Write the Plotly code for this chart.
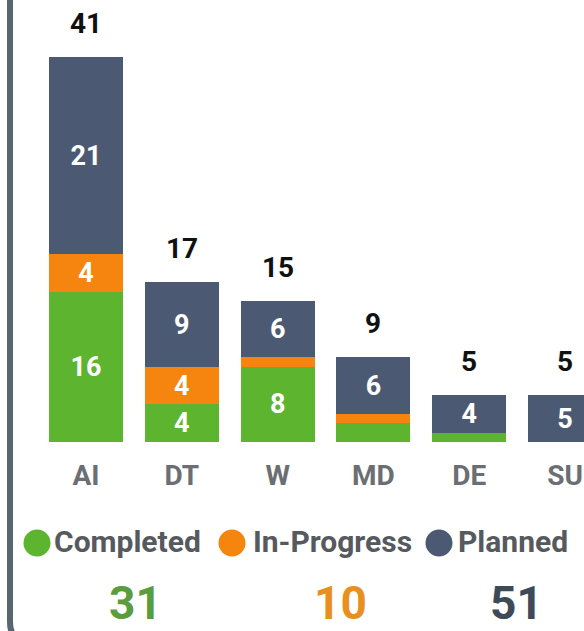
import plotly.graph_objects as go

categories = ["AI", "DT", "W", "MD", "DE", "SU"]
completed = [16, 4, 8, 2, 1, 0]
in_progress = [4, 4, 1, 1, 0, 0]
planned = [21, 9, 6, 6, 4, 5]
series_names = ["Completed", "In-Progress", "Planned"]

W, H = 584, 631
FONT = "Roboto"
colors = {"Completed": "#5db42f", "In-Progress": "#f6850f", "Planned": "#4b5a72"}
total_colors = {"Completed": "#5b9c3d", "In-Progress": "#e98f1e", "Planned": "#3f4a59"}

def px_x(p):
    return p / W

def px_y(p):
    return 1 - p / H

fig = go.Figure()
series = [completed, in_progress, planned]
for name, vals in zip(series_names, series):
    fig.add_trace(go.Bar(
        x=categories, y=vals, name=name,
        marker=dict(color=colors[name], line=dict(width=0)),
        text=[str(v) if v >= 4 else "" for v in vals],
        textposition="inside", insidetextanchor="middle", textangle=0,
        constraintext="none",
        textfont=dict(family=FONT, size=27, color="white", weight=700),
        showlegend=False, hoverinfo="skip",
    ))

totals = [a + b + c for a, b, c in zip(completed, in_progress, planned)]
annotations = []
for cat, t in zip(categories, totals):
    annotations.append(dict(
        x=cat, y=t, xref="x", yref="y", text=str(t), showarrow=False,
        yshift=34, yanchor="middle", xanchor="center",
        font=dict(family=FONT, size=28, color="#111111", weight=700),
    ))

# legend (circles + labels) and series totals
legend_circle_x = [37, 232, 439]
legend_text_x = [52, 251, 456]
total_x = [135, 340, 516]
shapes = []
for i, name in enumerate(series_names):
    shapes.append(dict(
        type="circle", xref="paper", yref="paper",
        xsizemode="pixel", ysizemode="pixel",
        xanchor=px_x(legend_circle_x[i]), yanchor=px_y(543),
        x0=-13.5, x1=13.5, y0=-13.5, y1=13.5,
        fillcolor=colors[name], line=dict(width=0),
    ))
    annotations.append(dict(
        x=px_x(legend_text_x[i]), y=px_y(541), xref="paper", yref="paper",
        text=name, showarrow=False, xanchor="left", yanchor="middle",
        font=dict(family=FONT, size=30, color="#56595e", weight=700),
    ))
    annotations.append(dict(
        x=px_x(total_x[i]), y=px_y(603), xref="paper", yref="paper",
        text=str(sum(series[i])), showarrow=False, xanchor="center", yanchor="middle",
        font=dict(family=FONT, size=46, color=total_colors[name], weight=700),
    ))

# panel left border with rounded bottom corner (bottom edge lies below the view)
bx = px_x(10)
shapes.append(dict(
    type="path", xref="paper", yref="paper",
    path=f"M {bx},{px_y(-5)} L {bx},{px_y(622)} Q {bx},{px_y(642)} {px_x(30)},{px_y(642)} L {px_x(600)},{px_y(642)}",
    line=dict(color="#5a6570", width=6),
))

fig.update_layout(
    width=W, height=H,
    margin=dict(l=0, r=0, t=0, b=0),
    paper_bgcolor="white", plot_bgcolor="white",
    barmode="stack", bargap=0.228,
    xaxis=dict(
        type="category", range=[-0.898, 5.198], domain=[0, 1],
        showgrid=False, zeroline=False, showline=False, ticks="",
        ticklabelstandoff=14,
        tickfont=dict(family=FONT, size=28, color="#6b6e72", weight=700),
    ),
    yaxis=dict(
        range=[0, 47.07], domain=[1 - 442 / H, 1],
        showgrid=False, zeroline=False, showline=False, showticklabels=False,
    ),
    annotations=annotations, shapes=shapes,
)

fig.write_html(
    "out.html",
    config={"displayModeBar": False},
    post_script="document.body.style.margin='0px';document.body.style.overflow='hidden';",
)
